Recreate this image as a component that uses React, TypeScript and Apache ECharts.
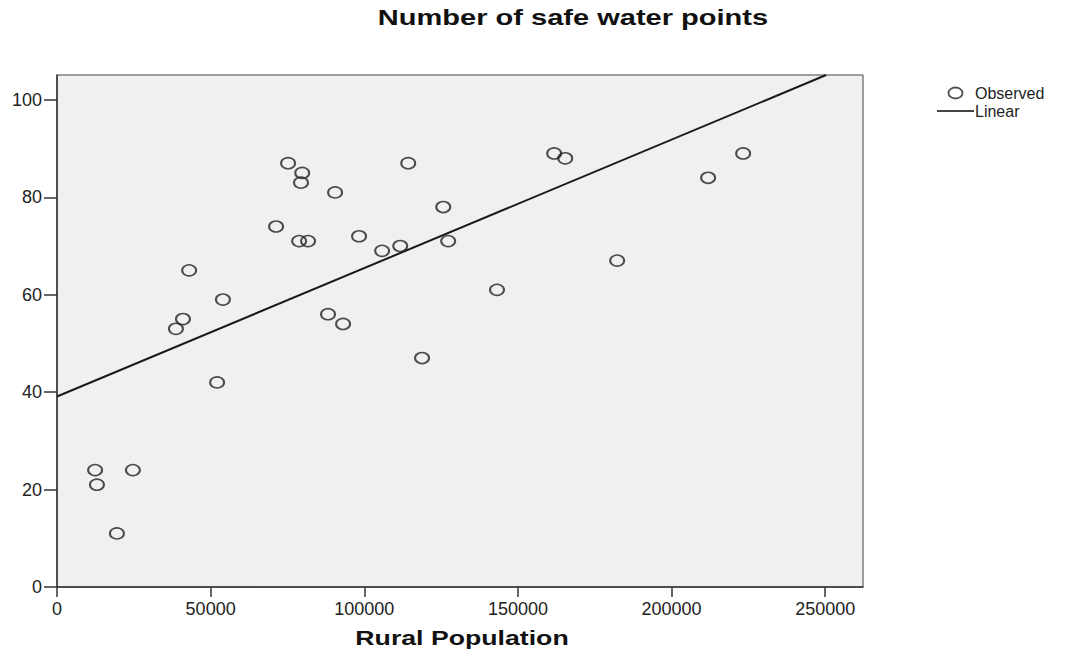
import React, { useEffect, useRef } from "react";
import * as echarts from "echarts";

const TITLE = "Number of safe water points";
const X_NAME = "Rural Population";
const SERIES_NAMES = ["Observed", "Linear"];

// Observed points: rural population (x) and number of safe water points (y)
const RURAL_POP = [
  12400, 13000, 19500, 24700, 38700, 41000, 43000, 52100, 54000, 71300,
  75200, 78800, 79800, 79400, 81700, 88200, 90500, 93100, 98300, 105800,
  111700, 114300, 118800, 125700, 127300, 143200, 161800, 165400, 182300,
  211900, 223300,
];
const WATER_POINTS = [
  24, 21, 11, 24, 53, 55, 65, 42, 59, 74,
  87, 71, 85, 83, 71, 56, 81, 54, 72, 69,
  70, 87, 47, 78, 71, 61, 89, 88, 67,
  84, 89,
];

// Linear fit line endpoints
const FIT_X = [0, 250300];
const FIT_Y = [39.1, 105.1];

const X_TICKS = [0, 50000, 100000, 150000, 200000, 250000];
const Y_TICKS = [0, 20, 40, 60, 80, 100];

export default function App() {
  const ref = useRef<HTMLDivElement>(null);

  useEffect(() => {
    document.body.style.margin = "0";
    const chart = echarts.init(ref.current!, null, { renderer: "svg" });
    const font = "'Liberation Sans', Arial, sans-serif";
    const axisColor = "#333";
    const observed = RURAL_POP.map((x, i) => [x, WATER_POINTS[i]]);
    const fit = FIT_X.map((x, i) => [x, FIT_Y[i]]);

    chart.setOption({
      animation: false,
      backgroundColor: "#ffffff",
      textStyle: { fontFamily: font },
      grid: {
        left: 57,
        right: 203,
        top: 75,
        bottom: 68,
        show: true,
        backgroundColor: "#f0f0f0",
        borderColor: "#444",
        borderWidth: 1,
        containLabel: false,
      },
      legend: {
        orient: "vertical",
        left: 932,
        top: 80,
        itemWidth: 37,
        itemHeight: 11,
        itemGap: 2,
        textStyle: { fontSize: 16, color: "#222", fontFamily: font, padding: [0, 0, 0, -4] },
        data: [
          {
            name: SERIES_NAMES[0],
            icon: "path://M0,5.5a7,5.5 0 1,0 14,0a7,5.5 0 1,0 -14,0z",
            itemStyle: { color: "transparent", borderColor: "#222", borderWidth: 1.8 },
          },
          {
            name: SERIES_NAMES[1],
            icon: "path://M0,0H37V2H0Z",
            itemStyle: { color: "#444", borderWidth: 0 },
          },
        ],
      },
      xAxis: {
        type: "value",
        min: 0,
        max: 262300,
        interval: 50000,
        axisLine: { show: true, onZero: false, lineStyle: { color: axisColor, width: 1.5 } },
        axisTick: { show: true, length: 10, customValues: X_TICKS, lineStyle: { color: axisColor, width: 1.5 } },
        axisLabel: {
          customValues: X_TICKS,
          fontSize: 18,
          color: "#222",
          margin: 13,
          fontFamily: font,
          formatter: (v: number) => String(v),
        },
        splitLine: { show: false },
      },
      yAxis: {
        type: "value",
        min: 0,
        max: 105.1,
        interval: 20,
        axisLine: { show: true, onZero: false, lineStyle: { color: axisColor, width: 1.5 } },
        axisTick: { show: true, length: 13, customValues: Y_TICKS, lineStyle: { color: axisColor, width: 1.5 } },
        axisLabel: {
          customValues: Y_TICKS,
          fontSize: 18,
          color: "#222",
          margin: 15,
          fontFamily: font,
          formatter: (v: number) => String(v),
        },
        splitLine: { show: false },
      },
      graphic: [
        {
          type: "text",
          x: 573,
          y: 17,
          scaleX: 1.32,
          style: {
            text: TITLE,
            font: `bold 22px ${font}`,
            fill: "#111",
            textAlign: "center",
            textVerticalAlign: "middle",
          },
        },
        {
          type: "text",
          x: 462,
          y: 638,
          scaleX: 1.27,
          style: {
            text: X_NAME,
            font: `bold 21px ${font}`,
            fill: "#111",
            textAlign: "center",
            textVerticalAlign: "middle",
          },
        },
      ],
      series: [
        {
          name: SERIES_NAMES[0],
          type: "scatter",
          data: observed,
          symbol: "circle",
          symbolSize: [14, 11],
          itemStyle: { color: "transparent", borderColor: "#222", borderWidth: 1.8 },
          z: 3,
        },
        {
          name: SERIES_NAMES[1],
          type: "line",
          data: fit,
          showSymbol: false,
          symbol: "none",
          clip: true,
          lineStyle: { color: "#1a1a1a", width: 2 },
          z: 2,
        },
      ],
    });

    return () => chart.dispose();
  }, []);

  return (
    <div
      ref={ref}
      style={{ position: "fixed", left: 0, top: 0, width: 1066, height: 655 }}
    />
  );
}
